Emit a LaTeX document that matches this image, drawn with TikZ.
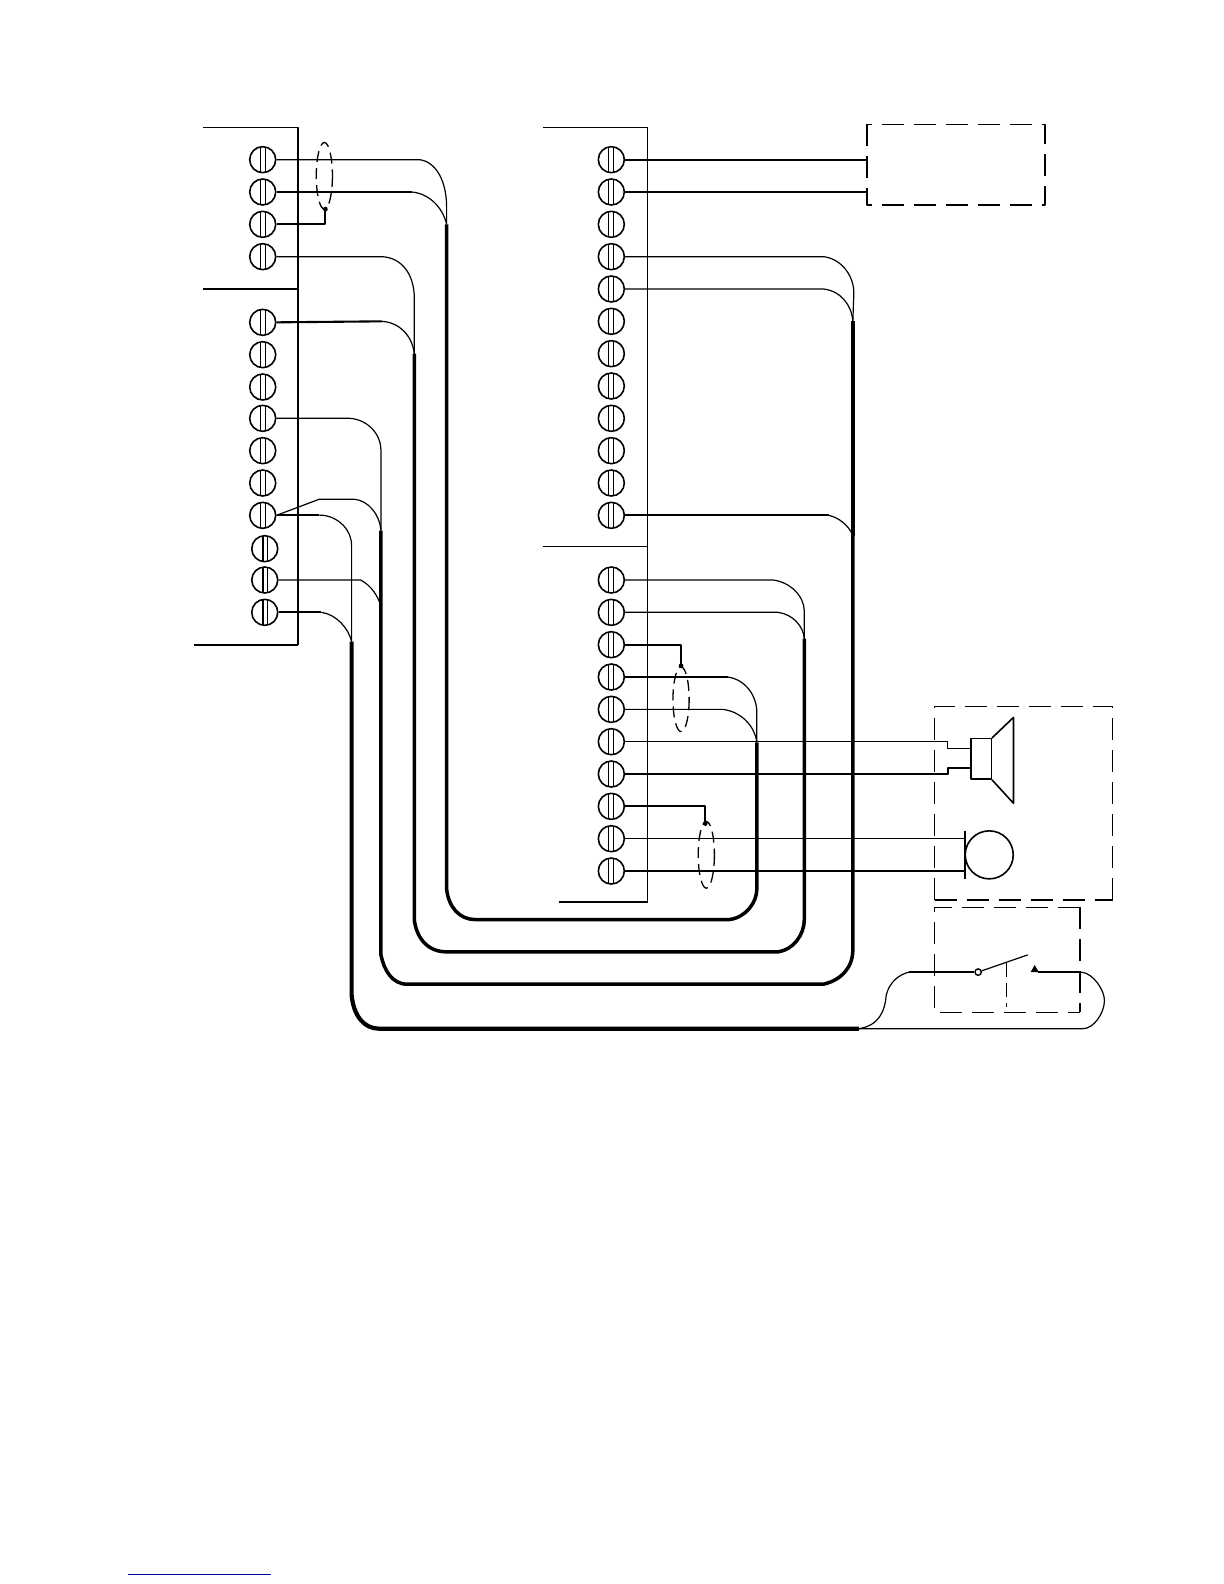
\documentclass[tikz,border=0pt]{standalone}
\begin{document}
\begin{tikzpicture}[x=0.50525pt,y=-0.50525pt,line join=round,
  screw/.style={circle,draw,line width=0.8pt,minimum size=13pt,inner sep=0pt,
    path picture={\draw[line width=0.45pt] ([xshift=-1.2pt]path picture bounding box.north) -- ([xshift=-1.2pt]path picture bounding box.south) ([xshift=1.2pt]path picture bounding box.north) -- ([xshift=1.2pt]path picture bounding box.south);}},
  screwb/.style={circle,draw,line width=0.8pt,minimum size=13pt,inner sep=0pt,
    path picture={\draw[line width=0.95pt] ([xshift=-0.8pt]path picture bounding box.north) -- ([xshift=-0.8pt]path picture bounding box.south); \draw[line width=0.45pt] ([xshift=1.2pt]path picture bounding box.north) -- ([xshift=1.2pt]path picture bounding box.south);}},
  panel/.style={line width=0.7pt},
  thin/.style={line width=0.6pt},
  med/.style={line width=1.05pt},
  bus/.style={line width=1.75pt},
  busx/.style={line width=2.1pt},
  dashbox/.style={line width=0.7pt,dash pattern=on 11pt off 5pt},
  shield/.style={line width=0.65pt,dash pattern=on 5.5pt off 3pt},
  dot/.style={fill=black,circle,inner sep=0pt,minimum size=2.4pt},
]
\useasboundingbox (0,0) rectangle (1211.3,1567.6);
% panels
\draw[panel] (201,126) -- (295,126) -- (295,638);
\draw[panel] (201,286) -- (295,286);
\draw[line width=1pt] (192,638) -- (295,638);
\draw[panel] (537,126) -- (641,126) -- (641,893);
\draw[panel] (537,541) -- (641,541);
\draw[line width=1pt] (553,893) -- (641,893);
% left screws
\foreach \n/\y in {1/158,2/190,3/222,4/254,5/319,6/351,7/383,8/414,9/446,10/478,11/510}
  \node[screw] (L\n) at (260,\y) {};
\foreach \n/\y in {12/543,13/574,14/606}
  \node[screwb] (L\n) at (262,\y) {};
% right screws
\foreach \n/\y in {1/158,2/190,3/222,4/254,5/286,6/318,7/350,8/382,9/414,10/446,11/478,12/510,13/574,14/606,15/638,16/670,17/702,18/734,19/766,20/798,21/830,22/862}
  \node[screw] (R\n) at (605,\y) {};
% junction points
\coordinate (jA) at (442,222);
\coordinate (jA2) at (749,735);
\coordinate (jB) at (410,350);
\coordinate (jB2) at (796,632);
\coordinate (jC) at (377,525);
\coordinate (jD) at (844,530);
\coordinate (jE) at (844,318);
\coordinate (jF) at (348,635);
\coordinate (jG) at (850,1018);
% wires left group to trunk A
\draw[thin] (L1.east) -- (415,158) .. controls (432,160) and (442,180) .. (442,205) -- (jA);
\draw[med] (L2.east) -- (408,190);
\draw[thin] (408,190) .. controls (425,192) and (438,205) .. (jA);
\draw[thin] (L4.east) -- (378,254) .. controls (398,255) and (410,272) .. (410,295) -- (jB);
\draw[med] (L5.east) -- (378,318);
\draw[thin] (378,318) .. controls (395,319) and (408,332) .. (jB);
\draw[thin] (L8.east) -- (346,414) .. controls (364,415) and (377,430) .. (377,445) -- (jC);
\draw[thin] (L11.east) -- (316,494) -- (350,494) .. controls (365,495) and (376,510) .. (jC);
\draw[med] (L11.east) -- (316,510);
\draw[thin] (316,510) -- (320,510) .. controls (336,512) and (348,525) .. (348,540) -- (jF);
\draw[thin] (L13.east) -- (357,574) .. controls (368,580) and (374,590) .. (377,600);
\draw[med] (L14.east) -- (318,606);
\draw[thin] (318,606) .. controls (333,608) and (345,622) .. (jF);
\draw[med] (L3.east) -- (322,222) -- (322,207);
\node[dot] (d1) at (322,207) {};
\draw[shield] (321,174) ellipse [x radius=8,y radius=33];
% buses
\draw[bus] (jA) -- (442,880) .. controls (444,898) and (455,910) .. (470,910) -- (722,910) .. controls (738,908) and (749,893) .. (749,880) -- (jA2);
\draw[bus] (jB) -- (410,910) .. controls (412,928) and (423,942) .. (442,942) -- (770,942) .. controls (785,940) and (796,925) .. (796,910) -- (jB2);
\draw[bus] (jC) -- (377,945) .. controls (380,960) and (388,974) .. (403,974) -- (815,974) .. controls (832,970) and (844,958) .. (844,940) -- (jD);
\draw[busx] (jD) -- (jE);
\draw[busx] (jF) -- (348,985) .. controls (350,1005) and (360,1018) .. (375,1018) -- (jG);
% right group wires
\draw[med] (R1.east) -- (858,158);
\draw[med] (R2.east) -- (858,190);
\draw[thin] (R4.east) -- (815,254) .. controls (832,256) and (845,272) .. (845,290) -- (jE);
\draw[thin] (R5.east) -- (815,286) .. controls (832,288) and (843,302) .. (jE);
\draw[med] (R12.east) -- (820,510);
\draw[thin] (820,510) .. controls (830,512) and (840,520) .. (jD);
\draw[thin] (R13.east) -- (765,574) .. controls (782,576) and (796,590) .. (796,605) -- (jB2);
\draw[thin] (R14.east) -- (770,606) .. controls (785,608) and (795,620) .. (jB2);
\draw[med] (R15.east) -- (674,638) -- (674,658);
\node[dot] (d2) at (674,659) {};
\draw[shield] (674,692) ellipse [x radius=8,y radius=32];
\draw[med] (R16.east) -- (720,670);
\draw[thin] (720,670) .. controls (737,672) and (749,688) .. (749,705) -- (jA2);
\draw[thin] (R17.east) -- (715,702) .. controls (733,704) and (747,718) .. (jA2);
\draw[med] (R20.east) -- (698,798) -- (698,815);
\node[dot] (d3) at (698,815) {};
\draw[shield] (699,846) ellipse [x radius=8,y radius=33];
% remote boxes
\draw[dashbox] (858,123) rectangle (1034,203);
\draw[dashbox] (925,891) -- (925,699) -- (1101,699) -- (1101,891);
\draw[dashbox,line width=1pt] (925,891) -- (1101,891);
\draw[dashbox] (1069,898) -- (925,898) -- (925,1002) -- (1069,1002);
\draw[dashbox,line width=1pt] (1069,898) -- (1069,1002);
% speaker
\node[draw,line width=0.7pt,minimum width=10.1pt,minimum height=20.2pt,inner sep=0pt] (spk) at (971,751) {};
\draw[line width=0.8pt] (spk.north east) -- (1003,710) -- (1003,795) -- (spk.south east);
\draw[thin] (R18.east) -- (938,734) -- (938,741) -- (961,741);
\draw[med] (R19.east) -- (938,766) -- (938,760) -- (961,760);
% microphone
\node[circle,draw,line width=0.8pt,minimum size=24pt,inner sep=0pt] (mic) at (979,846) {};
\draw[thin] (955,822) -- (955,870);
\draw[thin] (R21.east) -- (955,830);
\draw[thin] (R22.east) -- (955,862);
% switch
\node[circle,draw,line width=0.7pt,minimum size=3.2pt,inner sep=0pt] (swA) at (968,962) {};
\coordinate (swT) at (1017,945);
\coordinate (swB) at (1027,962);
\draw[thin] (swA) -- (swT);
\draw[thin,dash pattern=on 7pt off 3pt] (996,953) -- (996,997);
\fill (1024,955) -- (1028,962) -- (1020,962) -- cycle;
\draw[med] (swB) -- (1070,962);
\draw[med] (900,962) -- (swA);
\draw[thin] (jG) .. controls (870,1015) and (876,1000) .. (877,985) .. controls (880,972) and (890,964) .. (900,962);
\draw[thin] (1070,962) .. controls (1082,963) and (1093,980) .. (1093,990) .. controls (1093,1003) and (1082,1018) .. (1072,1018) -- (jG);
% blue rule
\draw[line width=0.8pt,color=blue!60!black] (127,1558) -- (268,1558);
\end{tikzpicture}
\end{document}
